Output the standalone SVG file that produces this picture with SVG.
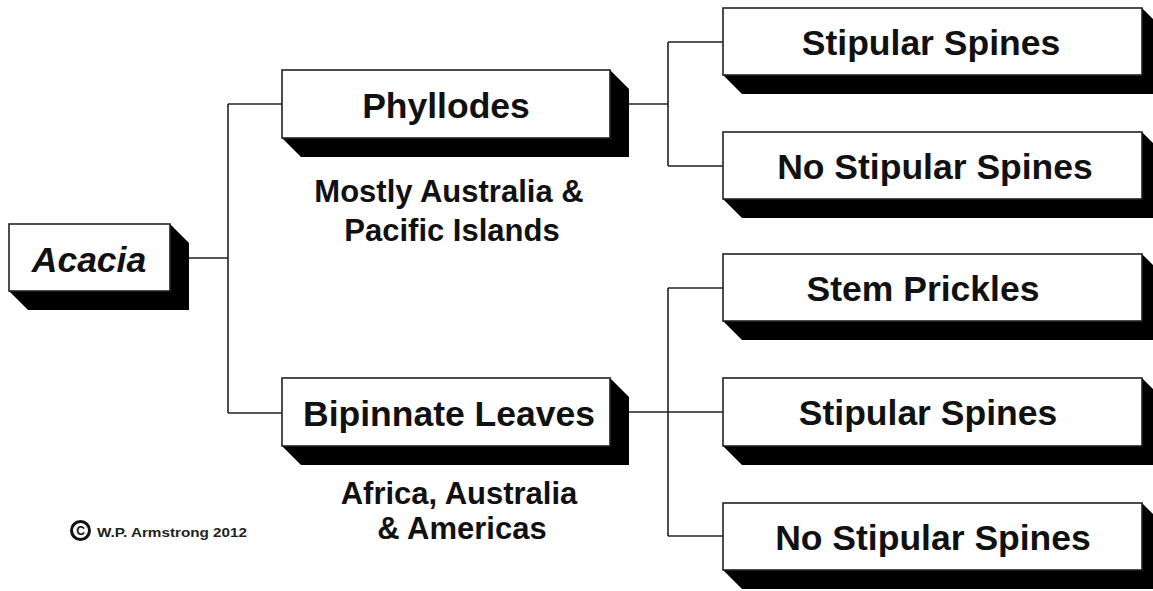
<svg xmlns="http://www.w3.org/2000/svg" width="1153" height="591" viewBox="0 0 1153 591">
<style>
.box{fill:#fff;stroke:#222;stroke-width:1.6}
.sh{fill:#000}
.lbl{font-family:"Liberation Sans",Arial,sans-serif;font-weight:bold;font-size:35.5px;fill:#111;text-anchor:middle}
.sub{font-family:"Liberation Sans",Arial,sans-serif;font-weight:bold;font-size:31px;fill:#111;text-anchor:middle}
.conn{stroke:#222;stroke-width:1.6;fill:none}
</style>
<rect width="1153" height="591" fill="#fff"/>
<g id="connectors">
<path class="conn" d="M189 258H228M228 104V413M228 104H282M228 413H282"/>
<path class="conn" d="M629 104H668M668 42V166M668 42H723M668 166H723"/>
<path class="conn" d="M629 412H723M668 288V536M668 288H723M668 536H723"/>
</g>
<g id="acacia">
<polygon class="sh" points="170,224 189,243 189,310 28,310 9,291 170,291"/>
<rect class="box" x="9" y="224" width="161" height="67"/>
<text class="lbl" x="89" y="272" font-style="italic">Acacia</text>
</g>
<g id="phyllodes">
<polygon class="sh" points="610,70 629,89 629,157 301,157 282,138 610,138"/>
<rect class="box" x="282" y="70" width="328" height="68"/>
<text class="lbl" x="446" y="118">Phyllodes</text>
</g>
<g id="bipinnate">
<polygon class="sh" points="610,378 629,397 629,465 301,465 282,446 610,446"/>
<rect class="box" x="282" y="378" width="328" height="68"/>
<text class="lbl" x="449" y="426">Bipinnate Leaves</text>
</g>
<g id="stipular1">
<polygon class="sh" points="1142,8 1161,27 1161,94 742,94 723,75 1142,75"/>
<rect class="box" x="723" y="8" width="419" height="67"/>
<text class="lbl" x="931" y="55">Stipular Spines</text>
</g>
<g id="nostipular1">
<polygon class="sh" points="1142,132 1161,151 1161,218 742,218 723,199 1142,199"/>
<rect class="box" x="723" y="132" width="419" height="67"/>
<text class="lbl" x="935" y="179">No Stipular Spines</text>
</g>
<g id="stem">
<polygon class="sh" points="1142,254 1161,273 1161,340 742,340 723,321 1142,321"/>
<rect class="box" x="723" y="254" width="419" height="67"/>
<text class="lbl" x="923" y="301">Stem Prickles</text>
</g>
<g id="stipular2">
<polygon class="sh" points="1142,378 1161,397 1161,465 742,465 723,446 1142,446"/>
<rect class="box" x="723" y="378" width="419" height="68"/>
<text class="lbl" x="928" y="425">Stipular Spines</text>
</g>
<g id="nostipular2">
<polygon class="sh" points="1142,503 1161,522 1161,589 742,589 723,570 1142,570"/>
<rect class="box" x="723" y="503" width="419" height="67"/>
<text class="lbl" x="933" y="550">No Stipular Spines</text>
</g>
<g id="notes">
<text class="sub" x="449" y="202">Mostly Australia &amp;</text>
<text class="sub" x="452" y="241">Pacific Islands</text>
<text class="sub" x="459" y="504">Africa, Australia</text>
<text class="sub" x="462" y="539">&amp; Americas</text>
</g>
<g id="copyright">
<circle cx="80.5" cy="530.5" r="9" fill="none" stroke="#111" stroke-width="3"/>
<text x="80.5" y="535" font-family="'Liberation Sans',Arial,sans-serif" font-weight="bold" font-size="12" fill="#111" text-anchor="middle">C</text>
<text x="97" y="537" font-family="'Liberation Sans',Arial,sans-serif" font-weight="bold" font-size="13.5" fill="#222" textLength="150" lengthAdjust="spacingAndGlyphs">W.P. Armstrong 2012</text>
</g>
</svg>
